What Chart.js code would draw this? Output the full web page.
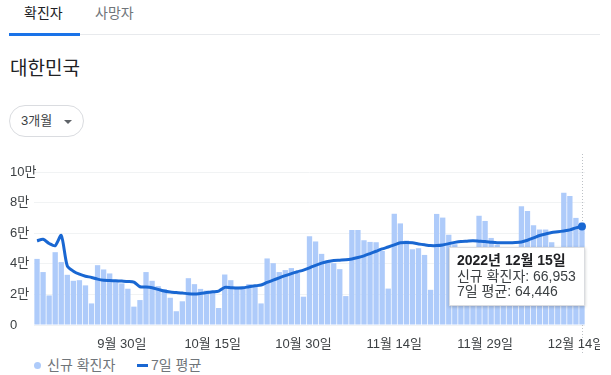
<!DOCTYPE html>
<html lang="ko">
<head>
<meta charset="utf-8">
<script src="https://cdn.jsdelivr.net/npm/chart.js@4/dist/chart.umd.min.js"></script>
<style>
  body { margin: 0; background: #fff; font-family: "Liberation Sans", Arial, "Noto Sans CJK KR", sans-serif; }
  .page { position: relative; width: 611px; height: 375px; overflow: hidden; }
  .tab { position: absolute; top: 4px; line-height: 18px; font-size: 14px; }
  .tab.on { left: 24px; color: #202124; }
  .tab.off { left: 95px; color: #70757a; }
  .tab-bar { position: absolute; left: 9px; top: 33px; width: 71px; height: 3px; background: #1a73e8; }
  .tab-line { position: absolute; left: 80px; top: 34px; width: 520px; height: 1px; background: #e8eaed; }
  .title { position: absolute; left: 10px; top: 57px; font-size: 19px; line-height: 24px; color: #202124; }
  .pill { position: absolute; left: 9px; top: 105px; width: 73px; height: 30px; border: 1px solid #dadce0; border-radius: 16px; box-sizing: content-box; }
  .pill span { position: absolute; left: 11px; top: 7px; font-size: 13px; line-height: 16px; color: #3c4043; }
  .pill i { position: absolute; left: 54px; top: 14px; width: 0; height: 0; border-left: 4px solid transparent; border-right: 4px solid transparent; border-top: 4px solid #5f6368; }
  canvas { position: absolute; left: 10px; top: 150px; }
  .tip { position: absolute; background: #fff; border: 1px solid #dadce0; box-shadow: 0 1px 3px rgba(60,64,67,0.3); padding: 5px 8px 5px 7px; font-size: 14px; line-height: 15.5px; color: #3c4043; white-space: nowrap; }
  .tip b { color: #202124; }
  .legend { position: absolute; top: 356px; left: 0; font-size: 14px; line-height: 18px; color: #70757a; }
  .legend .dot { position: absolute; left: 34px; top: 6px; width: 7px; height: 7px; border-radius: 50%; background: #aecbfa; }
  .legend .t1 { position: absolute; left: 47px; top: 0; white-space: nowrap; }
  .legend .ln { position: absolute; left: 137px; top: 8px; width: 11px; height: 3px; background: #1967d2; }
  .legend .t2 { position: absolute; left: 151px; top: 0; white-space: nowrap; }
</style>
</head>
<body>
<div class="page">
  <div class="tab on">확진자</div>
  <div class="tab off">사망자</div>
  <div class="tab-bar"></div>
  <div class="tab-line"></div>
  <div class="title">대한민국</div>
  <div class="pill"><span>3개월</span><i></i></div>
  <canvas id="chart" width="590" height="205"></canvas>
  <div class="tip" id="tip"></div>
  <div class="legend">
    <div class="dot"></div><div class="t1">신규 확진자</div>
    <div class="ln"></div><div class="t2">7일 평균</div>
  </div>
</div>
<script>
const startDate = [2022, 9, 16];
const dayCount = 91;

// daily new cases, 9/16 .. 12/15
const newCases = [
  43200, 34600, 19300, 47600, 41100, 32800, 28900, 29300, 25900, 14100,
  39100, 36300, 33700, 28500, 27200, 23700, 12000, 16300, 34600, 28900,
  25400, 23500, 17800, 9000, 15500, 30600, 26700, 23600, 22500, 21100,
  11100, 33000, 29300, 25000, 24600, 26700, 25900, 14100, 43500, 40400,
  34600, 35900, 37200, 34100, 18500, 58000, 54600, 46500, 42000, 40400,
  36500, 18900, 62100, 62100, 55400, 54300, 54100, 48400, 23800, 72700,
  66400, 55200, 49500, 50200, 45800, 23000, 72600, 70200, 59000, 52800,
  51000, 47000, 25500, 71400, 68000, 56900, 52500, 51000, 47500, 25000,
  77600, 74500, 65200, 62400, 62400, 54100, 25700, 86500, 84300, 70000,
  66953
];

// 7-day average
const avg7 = [
  55000, 56000, 53300, 51800, 58500, 38500, 35200, 33200, 31900, 31100,
  30000, 29300, 29100, 28900, 28700, 28500, 28000, 25000, 24800, 24300,
  23300, 22200, 21500, 21200, 20900, 20400, 20200, 20600, 21200, 21700,
  22200, 24600, 24400, 24200, 24300, 25000, 25600, 26100, 27800, 29300,
  30800, 32300, 33600, 34800, 35900, 37400, 39000, 40400, 41500, 42200,
  42400, 42600, 43200, 44100, 45200, 46700, 48200, 49700, 51000, 52400,
  53700, 53900, 53700, 53000, 52400, 51900, 51900, 52300, 53200, 54000,
  54600, 54800, 55000, 54800, 54600, 54100, 53700, 53700, 53700, 53900,
  54300, 55400, 56900, 58500, 59500, 60400, 60900, 61500, 62200, 63500,
  64446
];

const xTickLabels = ['9월 30일', '10월 15일', '10월 30일', '11월 14일', '11월 29일', '12월 14일'];
const yTicks = [0, 20000, 40000, 60000, 80000, 100000];

const days = [];
for (let i = 0; i < dayCount; i++) {
  const d = new Date(startDate[0], startDate[1] - 1, startDate[2] + i);
  days.push({ y: d.getFullYear(), m: d.getMonth() + 1, d: d.getDate() });
}
const labels = days.map(d => d.m + '월 ' + d.d + '일');

const FONT = '"Liberation Sans", Arial, "Noto Sans CJK KR", sans-serif';
const last = dayCount - 1;

const hoverLine = {
  id: 'hoverLine',
  beforeDatasetsDraw(chart) {
    const p = chart.getDatasetMeta(1).data[last];
    const ctx = chart.ctx;
    ctx.save();
    ctx.strokeStyle = '#bdc1c6';
    ctx.lineWidth = 1;
    ctx.setLineDash([1, 2]);
    ctx.beginPath();
    ctx.moveTo(Math.round(p.x) + 0.5, 4);
    ctx.lineTo(Math.round(p.x) + 0.5, 203);
    ctx.stroke();
    ctx.restore();
  }
};

const chart = new Chart(document.getElementById('chart'), {
  data: {
    labels: labels,
    datasets: [
      {
        type: 'bar',
        label: '신규 확진자',
        data: newCases,
        backgroundColor: '#aecbfa',
        barPercentage: 0.88,
        categoryPercentage: 1.0,
        order: 1,
      },
      {
        type: 'line',
        label: '7일 평균',
        data: avg7,
        borderColor: '#1967d2',
        backgroundColor: '#1967d2',
        borderWidth: 3,
        tension: 0.25,
        pointRadius: avg7.map((v, i) => (i === last ? 4 : 0)),
        pointBorderWidth: 0,
        order: 0,
      },
    ],
  },
  options: {
    responsive: false,
    animation: false,
    layout: { padding: { top: 22, right: 15, left: 0, bottom: 0 } },
    plugins: { legend: { display: false }, tooltip: { enabled: false } },
    scales: {
      x: {
        grid: { display: false },
        border: { display: false },
        afterFit: (s) => { s.height = 30; },
        ticks: {
          autoSkip: false,
          maxRotation: 0,
          padding: 4,
          color: '#3c4043',
          font: { family: FONT, size: 13 },
          callback: function (v, i) {
            return xTickLabels.includes(labels[i]) ? labels[i] : '';
          },
        },
      },
      y: {
        min: 0,
        max: 100000,
        afterFit: (s) => { s.width = 24; },
        afterBuildTicks: (s) => { s.ticks = yTicks.map(v => ({ value: v })); },
        grid: { color: '#f1f3f4', drawTicks: false },
        border: { display: false },
        ticks: {
          mirror: true,
          padding: -24,
          color: '#3c4043',
          font: { family: FONT, size: 13 },
          callback: (v) => (v === 0 ? '0' : v / 10000 + '만'),
        },
      },
    },
  },
  plugins: [hoverLine],
});

// tooltip for the last day
const tip = document.getElementById('tip');
const lastDay = days[last];
tip.innerHTML = '<b>' + lastDay.y + '년 ' + lastDay.m + '월 ' + lastDay.d + '일</b><br>' +
  '신규 확진자: ' + newCases[last].toLocaleString('en-US') + '<br>' +
  '7일 평균: ' + avg7[last].toLocaleString('en-US');
const pt = chart.getDatasetMeta(1).data[last];
const px = pt.x + 10, py = pt.y + 150;
tip.style.top = (py + 21) + 'px';
tip.style.left = (px + 3 - tip.offsetWidth) + 'px';
</script>
</body>
</html>
